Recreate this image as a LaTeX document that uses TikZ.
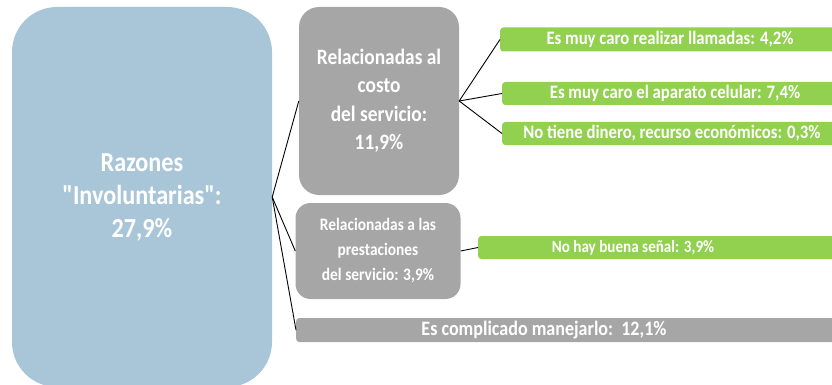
\documentclass[tikz,border=0pt]{standalone}
\usepackage{fontspec}
\newfontfamily\lbl{Carlito}[FakeStretch=0.88]
\definecolor{rootblue}{RGB}{169,198,216}
\definecolor{boxgray}{RGB}{166,166,166}
\definecolor{bargreen}{RGB}{146,208,80}
\begin{document}
\begin{tikzpicture}[x=1pt, y=-1pt,
	box/.style={draw=none, fill=boxgray, text=white, align=center, font=\lbl\bfseries},
	bar/.style={draw=none, anchor=west, minimum height=24pt, inner sep=0pt, rounded corners=3pt},
	bartext/.style={text=white, font=\lbl\bfseries\fontsize{19}{22}\selectfont, inner sep=0pt},
	link/.style={draw=black, line width=0.9pt}]
	\useasboundingbox (0,0) rectangle (832,385);
	% Root
	\node [box, fill=rootblue, minimum width=260pt, minimum height=380pt, rounded corners=45pt,
		font=\lbl\bfseries\fontsize{27.5}{33}\selectfont] (root) at (142,197)
		{Razones\\"Involuntarias":\\27,9\%};
	% Gray boxes
	\node [box, minimum width=160pt, minimum height=188pt, rounded corners=20pt,
		font=\lbl\bfseries\fontsize{22}{28.5}\selectfont] (costo) at (379,101)
		{Relacionadas al\\costo\\del servicio:\\11,9\%};
	\node [box, minimum width=165pt, minimum height=96pt, rounded corners=15pt,
		font=\lbl\bfseries\fontsize{17.5}{25}\selectfont] (prest) at (378,251)
		{Relacionadas a las\\prestaciones\\del servicio: 3,9\%};
	\node [bar, fill=boxgray, minimum width=560pt] (compl) at (296,330) {};
	% Green bars
	\node [bar, fill=bargreen, minimum width=360pt] (caro1) at (500,39.5) {};
	\node [bar, fill=bargreen, minimum width=360pt, minimum height=23pt] (caro2) at (502,93.5) {};
	\node [bar, fill=bargreen, minimum width=360pt, minimum height=23pt] (dinero) at (502,133.5) {};
	\node [bar, fill=bargreen, minimum width=380pt, minimum height=23pt] (senal) at (478,247.5) {};
	% Texts
	\node [bartext] (t1) at (670,39.5) {Es muy caro realizar llamadas: 4,2\%};
	\node [bartext] (t2) at (675,93.5) {Es muy caro el aparato celular: 7,4\%};
	\node [bartext] (t3) at (672,133.5) {No tiene dinero, recurso económicos: 0,3\%};
	\node [bartext, font=\lbl\bfseries\fontsize{17.2}{20}\selectfont] (t4) at (633,247.5) {No hay buena señal: 3,9\%};
	\node [bartext, font=\lbl\bfseries\fontsize{20.5}{24}\selectfont] (t5) at (544,330) {Es complicado manejarlo:\ \ 12,1\%};
	% Links
	\foreach \n in {costo, prest, compl} {
		\draw [link] (root.east) -- (\n.west);
	}
	\foreach \n in {caro1, caro2, dinero} {
		\draw [link] (costo.east) -- (\n.west);
	}
	\draw [link] (prest.east) -- (senal.west);
\end{tikzpicture}
\end{document}
